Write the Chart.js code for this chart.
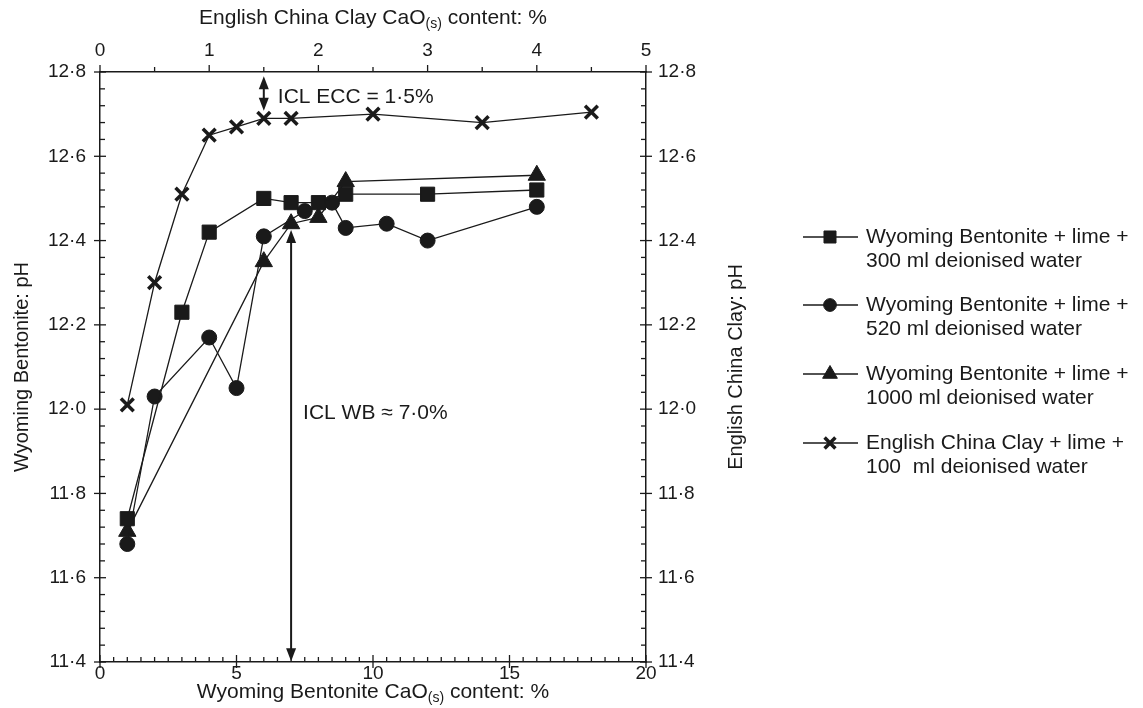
<!DOCTYPE html>
<html>
<head>
<meta charset="utf-8">
<script src="https://cdn.jsdelivr.net/npm/chart.js@4.4.1/dist/chart.umd.min.js"></script>
<style>
    html, body { margin: 0; padding: 0; background: #fff; }
    #wrap { width: 1143px; height: 708px; }
</style>
</head>
<body>
<div id="wrap"><canvas id="phChart" width="1143" height="708"></canvas></div>
<script>
    // Wyoming Bentonite (bottom axis), three water contents
    const wbCaO300 = [1, 3, 4, 6, 7, 8, 9, 12, 16];
    const wbPH300 = [11.74, 12.23, 12.42, 12.50, 12.49, 12.49, 12.51, 12.51, 12.52];
    const wbCaO520 = [1, 2, 4, 5, 6, 7.5, 8.5, 9, 10.5, 12, 16];
    const wbPH520 = [11.68, 12.03, 12.17, 12.05, 12.41, 12.47, 12.49, 12.43, 12.44, 12.40, 12.48];
    const wbCaO1000 = [1, 6, 7, 8, 9, 16];
    const wbPH1000 = [11.71, 12.35, 12.44, 12.455, 12.54, 12.555];

    // English China Clay (top axis)
    const eccCaO = [0.25, 0.5, 0.75, 1, 1.25, 1.5, 1.75, 2.5, 3.5, 4.5];
    const eccPH = [12.01, 12.30, 12.51, 12.65, 12.67, 12.69, 12.69, 12.70, 12.68, 12.705];

    // axis ticks
    const wbTicks = [0, 5, 10, 15, 20];
    const eccTicks = [0, 1, 2, 3, 4, 5];
    const phTicks = [11.4, 11.6, 11.8, 12.0, 12.2, 12.4, 12.6, 12.8];

    // initial consumption of lime markers
    const iclECC = 1.5;
    const iclWB = 7.0;

    const legendLabels = [
        ['Wyoming Bentonite + lime +', '300 ml deionised water'],
        ['Wyoming Bentonite + lime +', '520 ml deionised water'],
        ['Wyoming Bentonite + lime +', '1000 ml deionised water'],
        ['English China Clay + lime +', '100  ml deionised water'],
    ];

    const ink = '#1a1a1a';
    const family = '"Liberation Sans", Arial, Helvetica, sans-serif';

    function pairs(xs, ys) {
        return xs.map((x, i) => ({ x, y: ys[i] }));
    }

    function fmtPH(v) {
        return Number(v).toFixed(1).replace('.', '\u00b7');
    }

    function series(label, xs, ys, style, radius, xAxisID, yAxisID, pointWidth) {
        return {
            label,
            data: pairs(xs, ys),
            xAxisID,
            yAxisID,
            borderColor: ink,
            borderWidth: 1.3,
            backgroundColor: ink,
            pointStyle: style,
            pointRadius: radius,
            pointHoverRadius: radius,
            pointBackgroundColor: ink,
            pointBorderColor: ink,
            pointBorderWidth: pointWidth,
            tension: 0,
            fill: false,
        };
    }

    const dataSets = [
        series(legendLabels[0].join(' '), wbCaO300, wbPH300, 'rect', 10, 'x', 'y', 1),
        series(legendLabels[1].join(' '), wbCaO520, wbPH520, 'circle', 7.5, 'x', 'y', 1),
        series(legendLabels[2].join(' '), wbCaO1000, wbPH1000, 'triangle', 10, 'x', 'y', 1),
        series(legendLabels[3].join(' '), eccCaO, eccPH, 'crossRot', 9, 'x2', 'y2', 3.5),
    ];

    function marker(ctx, style, radius, width, x, y) {
        ctx.save();
        ctx.fillStyle = ink;
        ctx.strokeStyle = ink;
        ctx.lineWidth = width;
        if (Chart.helpers && Chart.helpers.drawPoint) {
            Chart.helpers.drawPoint(ctx, { pointStyle: style, radius, rotation: 0, borderWidth: width }, x, y);
        }
        ctx.restore();
    }

    function arrowHead(ctx, x, tipY, dir) {
        // dir -1 points up, +1 points down
        ctx.beginPath();
        ctx.moveTo(x, tipY);
        ctx.lineTo(x - 5, tipY - dir * 13);
        ctx.lineTo(x + 5, tipY - dir * 13);
        ctx.closePath();
        ctx.fill();
    }

    function doubleArrow(ctx, x, yTop, yBottom) {
        ctx.beginPath();
        ctx.moveTo(x, yTop + 8);
        ctx.lineTo(x, yBottom - 8);
        ctx.stroke();
        arrowHead(ctx, x, yTop, -1);
        arrowHead(ctx, x, yBottom, 1);
    }

    function subTitle(ctx, cx, cy, pre, sub, post, size) {
        ctx.font = size + 'px ' + family;
        const w1 = ctx.measureText(pre).width;
        const w3 = ctx.measureText(post).width;
        ctx.font = Math.round(size * 0.66) + 'px ' + family;
        const w2 = ctx.measureText(sub).width;
        let x = cx - (w1 + w2 + w3) / 2;
        ctx.textAlign = 'left';
        ctx.textBaseline = 'middle';
        ctx.font = size + 'px ' + family;
        ctx.fillText(pre, x, cy);
        x += w1;
        ctx.font = Math.round(size * 0.66) + 'px ' + family;
        ctx.fillText(sub, x, cy + size * 0.3);
        x += w2;
        ctx.font = size + 'px ' + family;
        ctx.fillText(post, x, cy);
    }

    const decorPlugin = {
        id: 'decor',
        afterDraw(chart) {
            const { ctx, chartArea: a, scales } = chart;
            ctx.save();
            ctx.strokeStyle = ink;
            ctx.fillStyle = ink;
            ctx.lineWidth = 1.3;

            const tick = (x1, y1, x2, y2) => {
                ctx.beginPath();
                ctx.moveTo(x1, y1);
                ctx.lineTo(x2, y2);
                ctx.stroke();
            };

            // bottom axis: minor every 0.5, inward
            for (let i = 0; i <= 40; i++) {
                const px = scales.x.getPixelForValue(i * 0.5);
                const major = i % 10 === 0;
                tick(px, a.bottom + (major ? 6 : 0), px, a.bottom - (major ? 7 : 5));
            }
            // top axis: every 0.5, outward
            for (let i = 0; i <= 10; i++) {
                const px = scales.x2.getPixelForValue(i * 0.5);
                const major = i % 2 === 0;
                tick(px, a.top, px, a.top - (major ? 7 : 5));
            }
            // y axes: minor every 0.04
            for (let i = 0; i <= 35; i++) {
                const py = scales.y.getPixelForValue(11.4 + i * 0.04);
                const major = i % 5 === 0;
                tick(a.left - (major ? 6 : 0), py, a.left + (major ? 6 : 5), py);
                tick(a.right + (major ? 6 : 0), py, a.right - (major ? 6 : 5), py);
            }

            // ICL arrows
            ctx.lineWidth = 2;
            const xE = scales.x2.getPixelForValue(iclECC);
            doubleArrow(ctx, xE, scales.y.getPixelForValue(12.79), scales.y.getPixelForValue(12.708));
            const xW = scales.x.getPixelForValue(iclWB);
            doubleArrow(ctx, xW, scales.y.getPixelForValue(12.425), scales.y.getPixelForValue(11.402));

            ctx.font = '21px ' + family;
            ctx.textAlign = 'left';
            ctx.textBaseline = 'middle';
            ctx.fillText('ICL ECC = 1\u00b75%', xE + 14, scales.y.getPixelForValue(12.74));
            ctx.fillText('ICL WB \u2248 7\u00b70%', xW + 12, scales.y.getPixelForValue(11.99));

            // axis titles
            const cx = (a.left + a.right) / 2;
            subTitle(ctx, cx, 18, 'English China Clay CaO', '(s)', ' content: %', 21);
            subTitle(ctx, cx, 692, 'Wyoming Bentonite CaO', '(s)', ' content: %', 21);

            const cy = (a.top + a.bottom) / 2;
            ctx.font = '20px ' + family;
            ctx.textAlign = 'center';
            ctx.save();
            ctx.translate(22, cy);
            ctx.rotate(-Math.PI / 2);
            ctx.fillText('Wyoming Bentonite: pH', 0, 0);
            ctx.restore();
            ctx.save();
            ctx.translate(736, cy);
            ctx.rotate(-Math.PI / 2);
            ctx.fillText('English China Clay: pH', 0, 0);
            ctx.restore();

            // legend
            const lx = 803;
            const rows = [237, 305, 374, 443];
            ctx.font = '21px ' + family;
            ctx.textAlign = 'left';
            chart.data.datasets.forEach((ds, i) => {
                const y = rows[i];
                ctx.lineWidth = 1.3;
                tick(lx, y, lx + 55, y);
                const r = ds.pointRadius * 0.85;
                marker(ctx, ds.pointStyle, r, ds.pointBorderWidth, lx + 27, y);
                ctx.fillStyle = ink;
                ctx.fillText(legendLabels[i][0], lx + 63, y);
                ctx.fillText(legendLabels[i][1], lx + 63, y + 24);
            });

            ctx.restore();
        },
    };

    function fixedTicks(list) {
        return function (scale) {
            scale.ticks = list.map((v) => ({ value: v }));
        };
    }

    const tickFont = { family: '"Liberation Sans", Arial, sans-serif', size: 19 };

    new Chart(document.getElementById('phChart').getContext('2d'), {
        type: 'line',
        data: { datasets: dataSets },
        options: {
            responsive: false,
            animation: false,
            events: [],
            layout: { padding: { left: 0, right: 397, top: 0, bottom: 0 } },
            plugins: {
                legend: { display: false },
                tooltip: { enabled: false },
            },
            scales: {
                x: {
                    type: 'linear',
                    position: 'bottom',
                    min: 0,
                    max: 20,
                    afterBuildTicks: fixedTicks(wbTicks),
                    afterFit: (s) => { s.height = 46; },
                    grid: { display: false, drawTicks: false },
                    border: { color: ink, width: 1.5 },
                    ticks: { color: ink, font: tickFont, padding: 0, maxRotation: 0 },
                },
                x2: {
                    type: 'linear',
                    position: 'top',
                    min: 0,
                    max: 5,
                    afterBuildTicks: fixedTicks(eccTicks),
                    afterFit: (s) => { s.height = 72; },
                    grid: { display: false, drawTicks: false },
                    border: { color: ink, width: 1.5 },
                    ticks: { color: ink, font: tickFont, padding: 10, maxRotation: 0 },
                },
                y: {
                    type: 'linear',
                    position: 'left',
                    min: 11.4,
                    max: 12.8,
                    afterBuildTicks: fixedTicks(phTicks),
                    afterFit: (s) => { s.width = 100; },
                    grid: { display: false, drawTicks: false },
                    border: { color: ink, width: 1.5 },
                    ticks: { color: ink, font: tickFont, padding: 14, callback: fmtPH },
                },
                y2: {
                    type: 'linear',
                    position: 'right',
                    min: 11.4,
                    max: 12.8,
                    afterBuildTicks: fixedTicks(phTicks),
                    afterFit: (s) => { s.width = 100; },
                    grid: { display: false, drawTicks: false },
                    border: { color: ink, width: 1.5 },
                    ticks: { color: ink, font: tickFont, padding: 12, callback: fmtPH },
                },
            },
        },
        plugins: [decorPlugin],
    });
</script>
</body>
</html>
